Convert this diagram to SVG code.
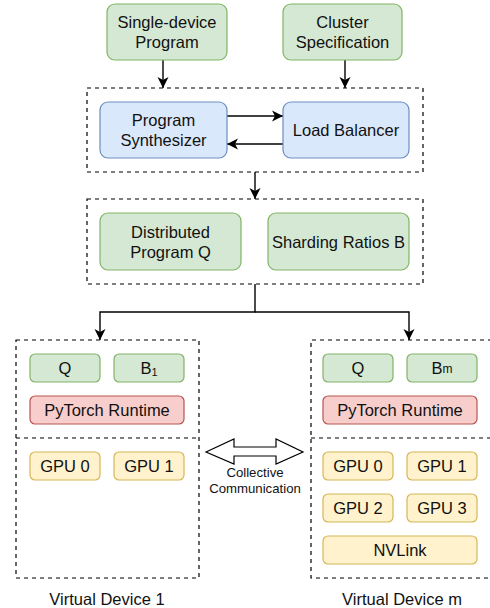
<svg xmlns="http://www.w3.org/2000/svg" width="490" height="608" viewBox="0 0 490 608">
<defs>
<marker id="ah" markerUnits="userSpaceOnUse" markerWidth="12" markerHeight="12" refX="11" refY="6" orient="auto" viewBox="0 0 12 12">
<path d="M0,0.5 L11,6 L0,11.5 L3,6 Z" fill="#000"/>
</marker>
<style>
text{font-family:"Liberation Sans",Arial,sans-serif;font-size:16.5px;fill:#111;text-anchor:middle;dominant-baseline:central}
.g{fill:#d5e8d4;stroke:#82b366;stroke-width:1.2}
.b{fill:#dae8fc;stroke:#6c8ebf;stroke-width:1.2}
.r{fill:#f8cecc;stroke:#b85450;stroke-width:1.2}
.y{fill:#fff2cc;stroke:#d6b656;stroke-width:1.2}
.d{fill:none;stroke:#000;stroke-width:1.2;stroke-dasharray:4 4}
.c{fill:none;stroke:#000;stroke-width:1.4}
.sm{font-size:13.2px}
</style>
</defs>
<rect width="490" height="608" fill="#fff"/>

<g id="containers">
<rect class="d" x="87" y="88" width="336" height="84"/>
<rect class="d" x="87" y="199" width="336" height="85"/>
<rect class="d" x="16" y="340" width="183" height="238"/>
<line class="d" x1="16" y1="438" x2="199" y2="438"/>
<path class="d" d="M492,340 L311,340 L311,578 L492,578"/>
<line class="d" x1="311" y1="438" x2="492" y2="438"/>
</g>

<g id="connectors">
<line class="c" x1="163" y1="60" x2="163" y2="88" marker-end="url(#ah)"/>
<line class="c" x1="345" y1="60" x2="345" y2="88" marker-end="url(#ah)"/>
<line class="c" x1="227" y1="116" x2="283" y2="116" marker-end="url(#ah)"/>
<line class="c" x1="283" y1="144" x2="227" y2="144" marker-end="url(#ah)"/>
<line class="c" x1="255" y1="172" x2="255" y2="199" marker-end="url(#ah)"/>
<path class="c" d="M255,284 L255,312 L100,312 L100,340" marker-end="url(#ah)"/>
<path class="c" d="M255,312 L409,312 L409,340" marker-end="url(#ah)"/>
<polygon points="206,452 234,439 234,447 276,447 276,439 303,452 276,464 276,456 234,456 234,464" fill="#fff" stroke="#000" stroke-width="1.2"/>
<text class="sm" x="255" y="472">Collective</text>
<text class="sm" x="255" y="488">Communication</text>
</g>

<g id="single-device-program">
<rect class="g" x="107" y="4" width="120" height="56" rx="8"/>
<text x="167" y="22">Single-device</text>
<text x="167" y="42">Program</text>
</g>
<g id="cluster-specification">
<rect class="g" x="283" y="4" width="119" height="56" rx="8"/>
<text x="342.5" y="22">Cluster</text>
<text x="342.5" y="42">Specification</text>
</g>
<g id="program-synthesizer">
<rect class="b" x="100" y="102" width="127" height="56" rx="8"/>
<text x="163.5" y="120">Program</text>
<text x="163.5" y="140">Synthesizer</text>
</g>
<g id="load-balancer">
<rect class="b" x="283" y="102" width="126" height="56" rx="8"/>
<text x="346" y="130">Load Balancer</text>
</g>
<g id="distributed-program">
<rect class="g" x="100" y="213" width="141" height="57" rx="8"/>
<text x="170.5" y="231.5">Distributed</text>
<text x="170.5" y="251.5">Program Q</text>
</g>
<g id="sharding-ratios">
<rect class="g" x="268" y="213" width="141" height="57" rx="8"/>
<text x="338.5" y="241.5">Sharding Ratios B</text>
</g>

<g id="vd1-q">
<rect class="g" x="30" y="354" width="70" height="28" rx="5"/>
<text x="65" y="368">Q</text>
</g>
<g id="vd1-b1">
<rect class="g" x="114" y="354" width="70" height="28" rx="5"/>
<text x="149" y="368">B<tspan font-size="11" dy="4">1</tspan></text>
</g>
<g id="vd1-pytorch">
<rect class="r" x="30" y="396" width="154" height="28" rx="5"/>
<text x="107" y="410">PyTorch Runtime</text>
</g>
<g id="vd1-gpu0">
<rect class="y" x="30" y="452" width="70" height="28" rx="5"/>
<text x="65" y="466">GPU 0</text>
</g>
<g id="vd1-gpu1">
<rect class="y" x="114" y="452" width="70" height="28" rx="5"/>
<text x="149" y="466">GPU 1</text>
</g>
<g id="vd1-label">
<text x="107" y="599">Virtual Device 1</text>
</g>

<g id="vdm-q">
<rect class="g" x="323" y="354" width="70" height="28" rx="5"/>
<text x="358" y="368">Q</text>
</g>
<g id="vdm-bm">
<rect class="g" x="407" y="354" width="70" height="28" rx="5"/>
<text x="442" y="368">B<tspan font-size="12" dy="1">m</tspan></text>
</g>
<g id="vdm-pytorch">
<rect class="r" x="323" y="396" width="154" height="28" rx="5"/>
<text x="400" y="410">PyTorch Runtime</text>
</g>
<g id="vdm-gpu0">
<rect class="y" x="323" y="452" width="70" height="28" rx="5"/>
<text x="358" y="466">GPU 0</text>
</g>
<g id="vdm-gpu1">
<rect class="y" x="407" y="452" width="70" height="28" rx="5"/>
<text x="442" y="466">GPU 1</text>
</g>
<g id="vdm-gpu2">
<rect class="y" x="323" y="494" width="70" height="28" rx="5"/>
<text x="358" y="508">GPU 2</text>
</g>
<g id="vdm-gpu3">
<rect class="y" x="407" y="494" width="70" height="28" rx="5"/>
<text x="442" y="508">GPU 3</text>
</g>
<g id="vdm-nvlink">
<rect class="y" x="323" y="536" width="154" height="28" rx="5"/>
<text x="400" y="550">NVLink</text>
</g>
<g id="vdm-label">
<text x="402" y="599">Virtual Device m</text>
</g>
</svg>
